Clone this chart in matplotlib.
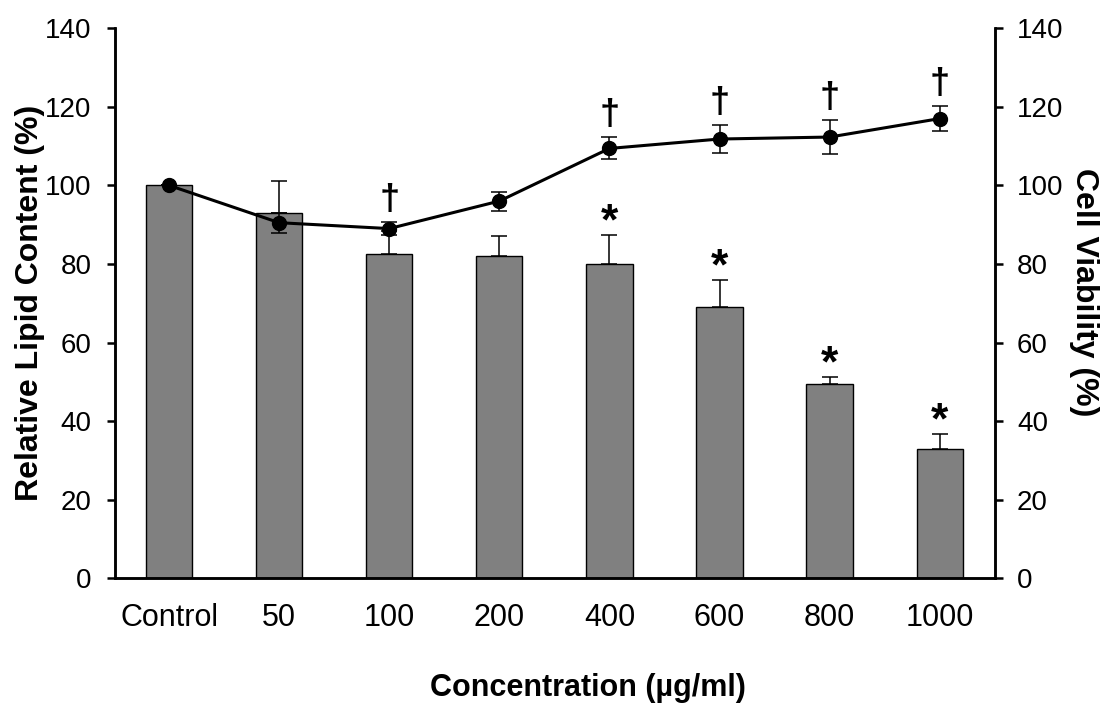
import numpy as np
import matplotlib.pyplot as plt

plt.rcParams['font.family'] = ['Liberation Sans', 'DejaVu Sans']

# data
categories = ['Control', '50', '100', '200', '400', '600', '800', '1000']
lipid = [100, 93, 82.5, 82, 80, 69, 49.5, 33]
lipid_err = [0, 8, 6, 5, 7.3, 6.8, 1.6, 3.6]
lipid_sig = [False, False, False, False, True, True, True, True]
viability = [100, 90.5, 89, 96, 109.4, 111.8, 112.3, 117]
viability_err = [0, 2.5, 1.6, 2.4, 2.8, 3.6, 4.4, 3.2]
viability_sig = [False, False, True, False, True, True, True, True]

x = np.arange(len(categories))

fig = plt.figure(figsize=(11.01, 7.06), dpi=100)
ax = fig.add_axes([0.1045, 0.181, 0.799, 0.779])
ax2 = ax.twinx()

ax.bar(x, lipid, width=0.42, color='#808080', edgecolor='black', linewidth=1, zorder=2)
ax.errorbar(x, lipid, yerr=[np.zeros(len(x)), lipid_err], fmt='none',
            ecolor='black', elinewidth=1.1, capsize=6, capthick=1.1, zorder=3)
for xi, v, e, s in zip(x, lipid, lipid_err, lipid_sig):
    if s:
        ax.text(xi, v + e + 3.2, '*', ha='center', va='center', fontsize=32, fontweight='bold')

ax2.errorbar(x, viability, yerr=viability_err, fmt='-o', color='black', lw=2.2,
             markersize=10, ecolor='black', elinewidth=1.1, capsize=6, capthick=1.1)
for xi, v, e, s in zip(x, viability, viability_err, viability_sig):
    if s:
        ax2.text(xi, v + e + 5.5, '\u2020', ha='center', va='center', fontsize=26, fontweight='bold')

for a in (ax, ax2):
    a.set_ylim(0, 140)
    a.set_yticks(np.arange(0, 141, 20))
    a.set_xlim(-0.49, 7.5)
    a.spines['top'].set_visible(False)
    for sp in ('left', 'right', 'bottom'):
        a.spines[sp].set_linewidth(1.8)
    a.tick_params(axis='y', direction='out', length=6, width=1.8, labelsize=20)
ax.tick_params(axis='y', pad=11)
ax2.tick_params(axis='y', pad=10)

ax.set_xticks(x)
ax.set_xticklabels(categories)
ax.tick_params(axis='x', length=0, labelsize=22, pad=18)

# axis titles, placed where they sit in the original
ax.set_ylabel('Relative Lipid Content (%)', fontsize=23, fontweight='bold', va='center')
ax.yaxis.set_label_coords(-0.097, 0.5)
ax2.set_ylabel('Cell Viability (%)', fontsize=23, fontweight='bold', rotation=270, va='center')
ax2.yaxis.set_label_coords(1.101, 0.52)
ax.set_xlabel('Concentration (\u00b5g/ml)', fontsize=22, fontweight='bold', va='center')
ax.xaxis.set_label_coords(0.5375, -0.199)

fig.savefig('out.png', dpi=100)
